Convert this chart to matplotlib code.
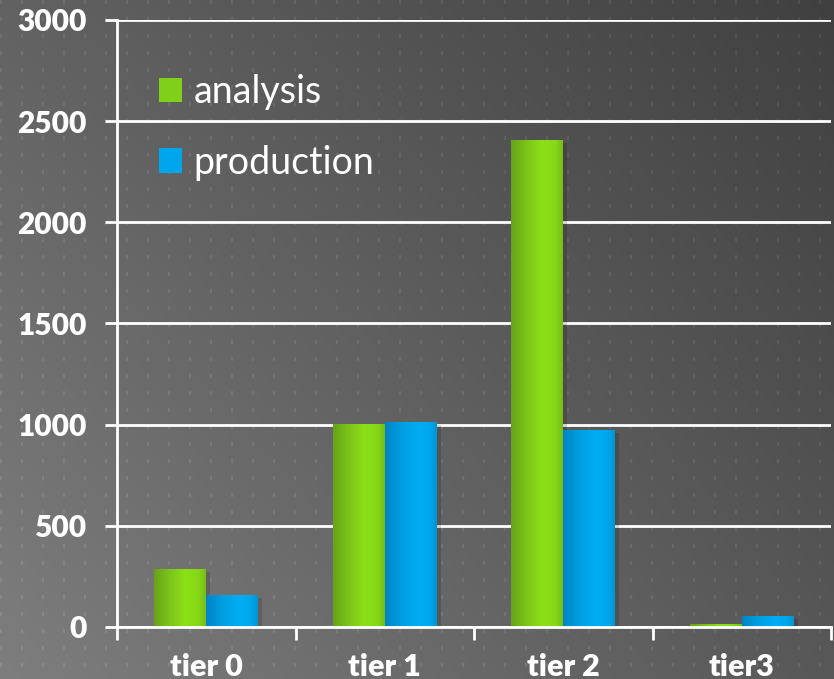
import numpy as np
import matplotlib
matplotlib.use("Agg")
import matplotlib.pyplot as plt
import matplotlib.patheffects as pe
from matplotlib.patches import Patch
from matplotlib.colors import LinearSegmentedColormap

# ---- data ----
tiers = ["tier 0", "tier 1", "tier 2", "tier3"]
analysis = [285, 1005, 2405, 15]
production = [158, 1012, 975, 55]
y_ticks = [0, 500, 1000, 1500, 2000, 2500, 3000]

W, H, DPI = 834, 679, 100
fig = plt.figure(figsize=(W / DPI, H / DPI), dpi=DPI)

# ---- textured gradient backdrop ----
yy, xx = np.mgrid[0:H, 0:W]
u = xx / (W - 1)
v = yy / (H - 1)            # 0 top, 1 bottom
tl, tr, bl, br = 0x62, 0x40, 0x7e, 0x58
base = (tl * (1 - u) * (1 - v) + tr * u * (1 - v) + bl * (1 - u) * v + br * u * v)
dots = ((xx % 21) < 2) & ((yy % 17) < 4)
shade = base + dots * 13
shade = np.clip(shade, 0, 255) / 255.0
bg = np.dstack([shade, shade, shade])
fig.figimage(bg, 0, 0, origin="upper", zorder=-10)

ax = fig.add_axes([117 / W, 52 / H, (831 - 117) / W, (627 - 20) / H])
ax.set_facecolor("none")
ax.patch.set_alpha(0)

font_bold = dict(family=["Lato", "DejaVu Sans"], weight="heavy")

x = np.arange(len(tiers))
bw = 0.29

green_cmap = LinearSegmentedColormap.from_list(
    "g", [(0.0, "#66a21b"), (0.3, "#7cc41a"), (0.6, "#8ce016"), (0.85, "#86d817"), (1.0, "#76bd19")])
blue_cmap = LinearSegmentedColormap.from_list(
    "b", [(0.0, "#0084c4"), (0.3, "#009ee0"), (0.65, "#00adf3"), (0.85, "#00a8ee"), (1.0, "#0094d4")])

grad = np.linspace(0, 1, 256).reshape(1, -1)
shadow = [pe.SimplePatchShadow(offset=(3, -2), shadow_rgbFace="black", alpha=0.14), pe.Normal()]

bars_a = ax.bar(x - bw / 2, analysis, bw, color="#86d817", zorder=3, linewidth=0)
bars_p = ax.bar(x + bw / 2, production, bw, color="#00a8ee", zorder=3, linewidth=0)
for bars, cmap in ((bars_a, green_cmap), (bars_p, blue_cmap)):
    for b in bars:
        b.set_path_effects(shadow)
        x0, y0 = b.get_x(), b.get_y()
        w, h = b.get_width(), b.get_height()
        im = ax.imshow(grad, cmap=cmap, aspect="auto", extent=(x0, x0 + w, y0, y0 + h),
                       zorder=3.5, interpolation="bilinear")
        im.set_clip_path(b)

ax.set_xlim(-0.5, 3.5)
ax.set_ylim(0, 3000)

# axes styling
for s in ("top", "right"):
    ax.spines[s].set_visible(False)
for s in ("left", "bottom"):
    ax.spines[s].set_color("white")
    ax.spines[s].set_linewidth(2)
    ax.spines[s].set_zorder(5)

ax.set_yticks(y_ticks)
ax.set_yticklabels([str(t) for t in y_ticks], color="white", fontsize=21.5, **font_bold)
ax.tick_params(axis="y", length=9, width=2, color="white", pad=13)
ax.yaxis.grid(True, color="white", linewidth=2, zorder=1)
ax.set_axisbelow(True)

ax.set_xticks(x)
ax.set_xticklabels(tiers, color="white", fontsize=22, **font_bold)
ax.tick_params(axis="x", which="major", length=0, pad=35)
for lbl in ax.get_xticklabels():
    lbl.set_verticalalignment("baseline")
ax.set_xticks(np.arange(-0.5, len(tiers)), minor=True)
ax.tick_params(axis="x", which="minor", length=9, width=2, color="white")

handles = [Patch(facecolor="#80cf18", edgecolor="none", label="analysis"),
           Patch(facecolor="#00a6ec", edgecolor="none", label="production")]
leg = ax.legend(handles=handles, loc="upper left", bbox_to_anchor=(0.038, 0.936),
                frameon=False, fontsize=27, handlelength=0.61, handleheight=0.61,
                handletextpad=0.3, labelspacing=0.93, borderaxespad=0)
for t in leg.get_texts():
    t.set_color("white")
    t.set_family(["Lato", "DejaVu Sans"])

fig.savefig("out.png", dpi=DPI)
